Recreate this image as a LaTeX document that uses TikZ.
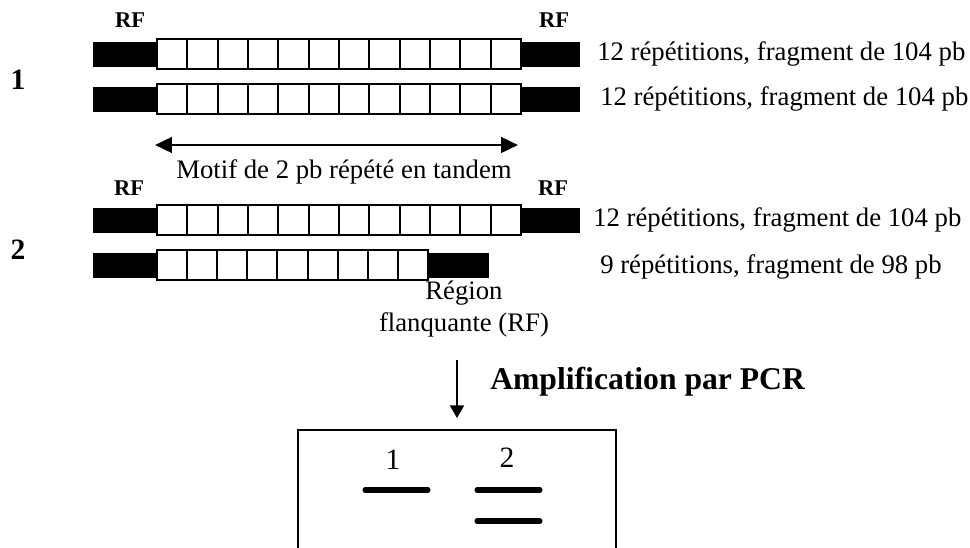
\documentclass[tikz,border=0pt]{standalone}
\usepackage{fontspec}
\setmainfont{Liberation Serif}
\usetikzlibrary{arrows.meta}
\begin{document}
\begin{tikzpicture}[x=0.025cm, y=-0.025cm,
    txt/.style={font=\fontsize{19}{23}\selectfont},
    rf/.style={font=\fontsize{16}{19}\selectfont\bfseries},
    num/.style={font=\fontsize{21}{25}\selectfont\bfseries},
    cell/.style={draw, fill=white, line width=1.4pt},
    band/.style={line width=3.6pt, line cap=round}]
    \useasboundingbox (0,0) rectangle (970,547);

    % alleles with 12 repeats
    \foreach \yc in {54, 99, 220} {
        \fill (93, \yc-12.5) rectangle (157, \yc+12.5);
        \fill (521, \yc-12.5) rectangle (580, \yc+12.5);
        \foreach \i in {0,...,11}
            \draw[cell] (157+\i*30.33, \yc-15) rectangle ++(30.33, 30);
    }
    % allele with 9 repeats
    \fill (93, 252.5) rectangle (157, 277.5);
    \fill (428, 252.5) rectangle (489, 277.5);
    \foreach \i in {0,...,8}
        \draw[cell] (157+\i*30.11, 250) rectangle ++(30.11, 30);

    \node[rf] (rfAl) at (130, 20) {RF};
    \node[rf] (rfAr) at (554, 20) {RF};
    \node[rf] (rfBl) at (129, 188) {RF};
    \node[rf] (rfBr) at (553, 188) {RF};
    \node[num] (ind1) at (18, 80) {1};
    \node[num] (ind2) at (18, 250) {2};

    \node[txt, anchor=west, inner sep=0pt] (a1) at (597, 54) {12 répétitions, fragment de 104 pb};
    \node[txt, anchor=west, inner sep=0pt] (a2) at (600, 99) {12 répétitions, fragment de 104 pb};
    \node[txt, anchor=west, inner sep=0pt] (b1) at (593, 220) {12 répétitions, fragment de 104 pb};
    \node[txt, anchor=west, inner sep=0pt] (b2) at (600, 267) {9 répétitions, fragment de 98 pb};

    \coordinate (mL) at (155, 145);
    \coordinate (mR) at (518, 145);
    \draw[{Triangle[length=12pt, width=11pt]}-{Triangle[length=12pt, width=11pt]}, line width=2pt] (mL) -- (mR);
    \node[txt, anchor=base] (motif) at (344, 178) {Motif de 2 pb répété en tandem};

    \node[txt, align=center] (flank) at (464, 309) {Région\\flanquante (RF)};

    % gel
    \node[draw, line width=1.4pt, minimum width=7.95cm, minimum height=4cm, anchor=north] (gel) at (457, 429) {};
    \coordinate (pcrTop) at (457, 360);
    \coordinate (pcrEnd) at (457, 418);
    \draw[-{Triangle[length=9pt, width=10pt]}, line width=1.4pt] (pcrTop) -- (pcrEnd);
    \node[anchor=west, inner sep=0pt, font=\fontsize{22.5}{27}\selectfont\bfseries] (pcr) at (490, 382) {Amplification par PCR};

    \node[txt, font=\fontsize{21}{25}\selectfont] (lane1) at (393, 460) {1};
    \node[txt, font=\fontsize{21}{25}\selectfont] (lane2) at (507, 458) {2};
    \draw[band] (365, 490) -- (428, 490);
    \draw[band] (477, 490) -- (540, 490);
    \draw[band] (477, 521) -- (540, 521);
\end{tikzpicture}
\end{document}
